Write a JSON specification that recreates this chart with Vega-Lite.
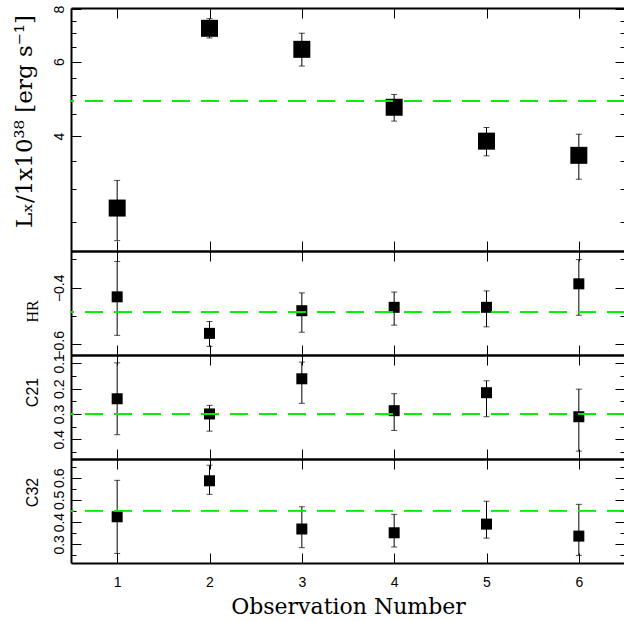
{
  "$schema": "https://vega.github.io/schema/vega-lite/v6.json",
  "autosize": {"type": "pad"},
  "padding": {"left": 12, "top": 5, "right": 0, "bottom": 0},
  "background": "white",
  "spacing": 0,
  "bounds": "flush",
  "datasets": {
    "lx": [
      {"obs": 1, "val": 2.70, "lo": 2.26, "hi": 3.14},
      {"obs": 2, "val": 7.20, "lo": 6.83, "hi": 7.59},
      {"obs": 3, "val": 6.42, "lo": 5.86, "hi": 7.01},
      {"obs": 4, "val": 4.68, "lo": 4.34, "hi": 5.02},
      {"obs": 5, "val": 3.89, "lo": 3.59, "hi": 4.19},
      {"obs": 6, "val": 3.60, "lo": 3.16, "hi": 4.04}
    ],
    "hr": [
      {"obs": 1, "val": -0.432, "lo": -0.568, "hi": -0.307},
      {"obs": 2, "val": -0.561, "lo": -0.607, "hi": -0.519},
      {"obs": 3, "val": -0.481, "lo": -0.557, "hi": -0.418},
      {"obs": 4, "val": -0.469, "lo": -0.532, "hi": -0.415},
      {"obs": 5, "val": -0.469, "lo": -0.538, "hi": -0.411},
      {"obs": 6, "val": -0.386, "lo": -0.497, "hi": -0.300}
    ],
    "c21": [
      {"obs": 1, "val": 0.240, "lo": 0.098, "hi": 0.382},
      {"obs": 2, "val": 0.300, "lo": 0.266, "hi": 0.368},
      {"obs": 3, "val": 0.161, "lo": 0.095, "hi": 0.258},
      {"obs": 4, "val": 0.287, "lo": 0.220, "hi": 0.365},
      {"obs": 5, "val": 0.216, "lo": 0.169, "hi": 0.311},
      {"obs": 6, "val": 0.311, "lo": 0.202, "hi": 0.447}
    ],
    "c32": [
      {"obs": 1, "val": 0.424, "lo": 0.259, "hi": 0.588},
      {"obs": 2, "val": 0.586, "lo": 0.525, "hi": 0.656},
      {"obs": 3, "val": 0.369, "lo": 0.285, "hi": 0.469},
      {"obs": 4, "val": 0.352, "lo": 0.288, "hi": 0.435},
      {"obs": 5, "val": 0.391, "lo": 0.328, "hi": 0.494},
      {"obs": 6, "val": 0.337, "lo": 0.250, "hi": 0.480}
    ]
  },
  "vconcat": [
    {
      "width": 554, "height": 243,
      "data": {"name": "lx"},
      "layer": [
        {
          "mark": {"type": "errorbar", "ticks": {"size": 6, "thickness": 1, "color": "black"}, "rule": {"strokeWidth": 1, "color": "black"}},
          "encoding": {
            "x": {"field": "obs", "type": "quantitative", "scale": {"domain": [0.5, 6.5], "nice": false, "zero": false},
                  "axis": {"orient": "bottom", "values": [1, 2, 3, 4, 5, 6], "tickSize": -10, "labels": false, "title": null}},
            "y": {"field": "lo", "type": "quantitative", "scale": {"type": "log", "domain": [2.136, 8.044], "nice": false},
                  "axis": {"orient": "left", "values": [2.5, 3, 3.5, 4, 4.5, 5, 5.5, 6, 6.5, 7, 7.5, 8],
                           "tickSize": {"condition": {"test": "datum.value == 4 || datum.value == 6 || datum.value == 8", "value": -10}, "value": -5},
                           "format": ".0f",
                           "labelExpr": "(datum.value == 4 || datum.value == 6 || datum.value == 8) ? datum.label : ''",
                           "labelAngle": 270, "labelAlign": "center", "labelBaseline": "bottom", "labelPadding": 15,
                           "title": "Lₓ/1x10³⁸ [erg s⁻¹]", "titleFont": "DejaVu Serif", "titleFontSize": 23,
                           "titleAngle": 270, "titleX": -47, "titleY": 113, "titleAlign": "center", "titleBaseline": "middle"}},
            "y2": {"field": "hi"}
          }
        },
        {
          "mark": {"type": "point", "shape": "square", "filled": true, "color": "black", "opacity": 1, "size": 289},
          "encoding": {
            "x": {"field": "obs", "type": "quantitative", "axis": {"orient": "top", "values": [1, 2, 3, 4, 5, 6], "tickSize": -10, "labels": false, "title": null}},
            "y": {"field": "val", "type": "quantitative",
                  "axis": {"orient": "right", "values": [2.5, 3, 3.5, 4, 4.5, 5, 5.5, 6, 6.5, 7, 7.5, 8], "domain": false,
                           "tickSize": {"condition": {"test": "datum.value == 4 || datum.value == 6 || datum.value == 8", "value": -10}, "value": -5},
                           "labels": false, "title": null}}
          }
        },
        {
          "mark": {"type": "rule", "color": "#00ee00", "strokeDash": [18, 11], "strokeWidth": 1},
          "encoding": {"y": {"datum": 4.84, "type": "quantitative", "axis": null}}
        }
      ],
      "resolve": {"axis": {"x": "independent", "y": "independent"}}
    },
    {
      "width": 554, "height": 104,
      "data": {"name": "hr"},
      "layer": [
        {
          "mark": {"type": "errorbar", "ticks": {"size": 6, "thickness": 1, "color": "black"}, "rule": {"strokeWidth": 1, "color": "black"}},
          "encoding": {
            "x": {"field": "obs", "type": "quantitative", "scale": {"domain": [0.5, 6.5], "nice": false, "zero": false},
                  "axis": {"orient": "bottom", "values": [1, 2, 3, 4, 5, 6], "tickSize": -10, "labels": false, "title": null}},
            "y": {"field": "lo", "type": "quantitative", "scale": {"domain": [-0.6375, -0.270], "nice": false, "zero": false},
                  "axis": {"orient": "left", "values": [-0.6, -0.5, -0.4, -0.3],
                           "tickSize": {"condition": {"test": "abs(datum.value + 0.4) < 0.001 || abs(datum.value + 0.6) < 0.001", "value": -10}, "value": -5},
                           "format": ".1f",
                           "labelExpr": "(abs(datum.value + 0.4) < 0.001 || abs(datum.value + 0.6) < 0.001) ? datum.label : ''",
                           "labelAngle": 270, "labelAlign": "center", "labelBaseline": "bottom", "labelPadding": 15,
                           "title": "HR", "titleFont": "Liberation Serif", "titleFontSize": 16,
                           "titleAngle": 270, "titleX": -39, "titleY": 60, "titleAlign": "center", "titleBaseline": "middle"}},
            "y2": {"field": "hi"}
          }
        },
        {
          "mark": {"type": "point", "shape": "square", "filled": true, "color": "black", "opacity": 1, "size": 121},
          "encoding": {
            "x": {"field": "obs", "type": "quantitative", "axis": {"orient": "top", "values": [1, 2, 3, 4, 5, 6], "tickSize": -10, "labels": false, "title": null}},
            "y": {"field": "val", "type": "quantitative",
                  "axis": {"orient": "right", "values": [-0.6, -0.5, -0.4, -0.3], "domain": false,
                           "tickSize": {"condition": {"test": "abs(datum.value + 0.4) < 0.001 || abs(datum.value + 0.6) < 0.001", "value": -10}, "value": -5},
                           "labels": false, "title": null}}
          }
        },
        {
          "mark": {"type": "rule", "color": "#00ee00", "strokeDash": [18, 11], "strokeWidth": 1},
          "encoding": {"y": {"datum": -0.486, "type": "quantitative", "axis": null}}
        }
      ],
      "resolve": {"axis": {"x": "independent", "y": "independent"}}
    },
    {
      "width": 554, "height": 104,
      "data": {"name": "c21"},
      "layer": [
        {
          "mark": {"type": "errorbar", "ticks": {"size": 6, "thickness": 1, "color": "black"}, "rule": {"strokeWidth": 1, "color": "black"}},
          "encoding": {
            "x": {"field": "obs", "type": "quantitative", "scale": {"domain": [0.5, 6.5], "nice": false, "zero": false},
                  "axis": {"orient": "bottom", "values": [1, 2, 3, 4, 5, 6], "tickSize": -10, "labels": false, "title": null}},
            "y": {"field": "lo", "type": "quantitative", "scale": {"domain": [0.067, 0.478], "nice": false, "zero": false, "reverse": true},
                  "axis": {"orient": "left", "values": [0.1, 0.15, 0.2, 0.25, 0.3, 0.35, 0.4, 0.45],
                           "tickSize": {"condition": {"test": "abs(datum.value * 10 - round(datum.value * 10)) < 0.01", "value": -10}, "value": -5},
                           "format": ".1f",
                           "labelExpr": "abs(datum.value * 10 - round(datum.value * 10)) < 0.01 ? datum.label : ''",
                           "labelAngle": 270, "labelAlign": "center", "labelBaseline": "bottom", "labelPadding": 15,
                           "title": "C21", "titleFont": "Liberation Sans", "titleFontSize": 16,
                           "titleAngle": 270, "titleX": -39, "titleY": 37, "titleAlign": "center", "titleBaseline": "middle"}},
            "y2": {"field": "hi"}
          }
        },
        {
          "mark": {"type": "point", "shape": "square", "filled": true, "color": "black", "opacity": 1, "size": 121},
          "encoding": {
            "x": {"field": "obs", "type": "quantitative", "axis": {"orient": "top", "values": [1, 2, 3, 4, 5, 6], "tickSize": -10, "labels": false, "title": null}},
            "y": {"field": "val", "type": "quantitative",
                  "axis": {"orient": "right", "values": [0.1, 0.15, 0.2, 0.25, 0.3, 0.35, 0.4, 0.45], "domain": false,
                           "tickSize": {"condition": {"test": "abs(datum.value * 10 - round(datum.value * 10)) < 0.01", "value": -10}, "value": -5},
                           "labels": false, "title": null}}
          }
        },
        {
          "mark": {"type": "rule", "color": "#00ee00", "strokeDash": [18, 11], "strokeWidth": 1},
          "encoding": {"y": {"datum": 0.300, "type": "quantitative", "axis": null}}
        }
      ],
      "resolve": {"axis": {"x": "independent", "y": "independent"}}
    },
    {
      "width": 554, "height": 104,
      "data": {"name": "c32"},
      "layer": [
        {
          "mark": {"type": "errorbar", "ticks": {"size": 6, "thickness": 1, "color": "black"}, "rule": {"strokeWidth": 1, "color": "black"}},
          "encoding": {
            "x": {"field": "obs", "type": "quantitative", "scale": {"domain": [0.5, 6.5], "nice": false, "zero": false},
                  "axis": {"orient": "bottom", "values": [1, 2, 3, 4, 5, 6], "tickSize": -10, "labels": true, "labelPadding": 22, "labelFontSize": 14,
                           "title": "Observation Number", "titleFont": "DejaVu Serif", "titleFontSize": 22,
                           "titleX": 277, "titleY": 50, "titleAlign": "center", "titleBaseline": "alphabetic"}},
            "y": {"field": "lo", "type": "quantitative", "scale": {"domain": [0.216, 0.684], "nice": false, "zero": false},
                  "axis": {"orient": "left", "values": [0.25, 0.3, 0.35, 0.4, 0.45, 0.5, 0.55, 0.6, 0.65],
                           "tickSize": {"condition": {"test": "abs(datum.value * 10 - round(datum.value * 10)) < 0.01", "value": -10}, "value": -5},
                           "format": ".1f",
                           "labelExpr": "abs(datum.value * 10 - round(datum.value * 10)) < 0.01 ? datum.label : ''",
                           "labelAngle": 270, "labelAlign": "center", "labelBaseline": "bottom", "labelPadding": 15,
                           "title": "C32", "titleFont": "Liberation Sans", "titleFontSize": 16,
                           "titleAngle": 270, "titleX": -39, "titleY": 33, "titleAlign": "center", "titleBaseline": "middle"}},
            "y2": {"field": "hi"}
          }
        },
        {
          "mark": {"type": "point", "shape": "square", "filled": true, "color": "black", "opacity": 1, "size": 121},
          "encoding": {
            "x": {"field": "obs", "type": "quantitative", "axis": {"orient": "top", "values": [1, 2, 3, 4, 5, 6], "tickSize": -10, "labels": false, "title": null}},
            "y": {"field": "val", "type": "quantitative",
                  "axis": {"orient": "right", "values": [0.25, 0.3, 0.35, 0.4, 0.45, 0.5, 0.55, 0.6, 0.65], "domain": false,
                           "tickSize": {"condition": {"test": "abs(datum.value * 10 - round(datum.value * 10)) < 0.01", "value": -10}, "value": -5},
                           "labels": false, "title": null}}
          }
        },
        {
          "mark": {"type": "rule", "color": "#00ee00", "strokeDash": [18, 11], "strokeWidth": 1},
          "encoding": {"y": {"datum": 0.451, "type": "quantitative", "axis": null}}
        }
      ],
      "resolve": {"axis": {"x": "independent", "y": "independent"}}
    }
  ],
  "config": {
    "view": {"stroke": null},
    "axis": {
      "grid": false,
      "domainColor": "black", "domainWidth": 2,
      "tickColor": "black", "tickWidth": 1,
      "labelFont": "Liberation Sans", "labelFontSize": 14, "labelColor": "black",
      "titleColor": "black", "titleFontWeight": "normal",
      "labelFlush": false, "labelOverlap": false
    }
  }
}
